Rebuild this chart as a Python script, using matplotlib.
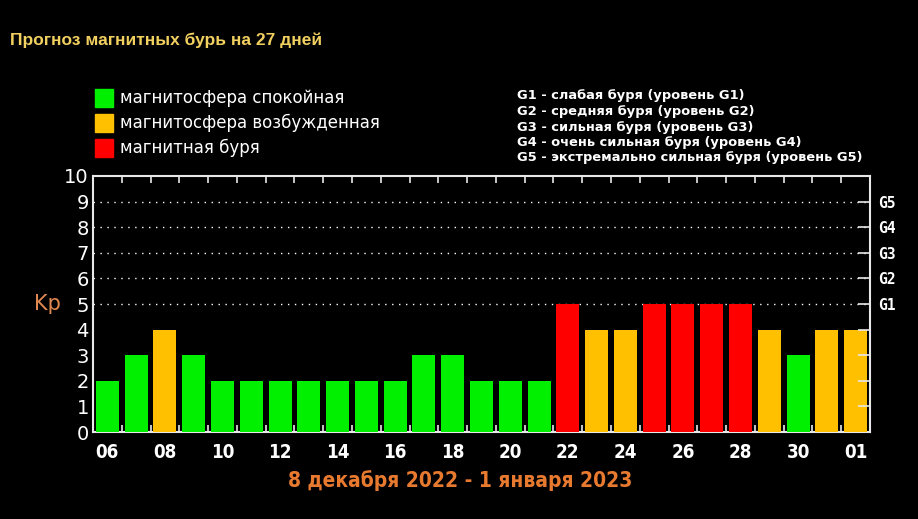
import matplotlib.pyplot as plt
from matplotlib.patches import Rectangle

# Данные: прогноз индекса Kp на 27 дней (06.12.2022 - 01.01.2023)
days = ['06', '07', '08', '09', '10', '11', '12', '13', '14', '15', '16', '17', '18', '19',
        '20', '21', '22', '23', '24', '25', '26', '27', '28', '29', '30', '31', '01']
kp = [2, 3, 4, 3, 2, 2, 2, 2, 2, 2, 2, 3, 3, 2, 2, 2, 5, 4, 4, 5, 5, 5, 5, 4, 3, 4, 4]
storm_levels = ['G1', 'G2', 'G3', 'G4', 'G5']
legend_labels = ['магнитосфера спокойная', 'магнитосфера возбужденная', 'магнитная буря']
g_texts = ['G1 - слабая буря (уровень G1)',
           'G2 - средняя буря (уровень G2)',
           'G3 - сильная буря (уровень G3)',
           'G4 - очень сильная буря (уровень G4)',
           'G5 - экстремально сильная буря (уровень G5)']

GREEN = '#00f000'
ORANGE = '#ffc000'
RED = '#ff0000'
colors_legend = [GREEN, ORANGE, RED]


def kp_color(v):
    if v >= 5:
        return RED
    if v == 4:
        return ORANGE
    return GREEN


narrow = ['Liberation Sans Narrow', 'DejaVu Sans']

fig = plt.figure(figsize=(9.18, 5.19), dpi=100, facecolor='black')
ax = fig.add_axes([0.1013, 0.1676, 0.8464, 0.4933], facecolor='black')

x = list(range(len(days)))
ax.bar(x, kp, width=0.8, color=[kp_color(v) for v in kp], zorder=3)

# пунктирные линии уровней G1-G5
for lvl in range(5, 10):
    ax.axhline(lvl, color='white', linestyle=(0, (1, 4)), linewidth=1, zorder=1)

ax.set_xlim(-0.5, len(days) - 0.5)
ax.set_ylim(0, 10)

for s in ax.spines.values():
    s.set_color('#e8e8e8')
    s.set_linewidth(1.5)

# подписи по оси X - через день
ax.set_xticks(x[::2])
ax.set_xticklabels(days[::2], color='white', fontsize=13.5, fontweight='bold', family=narrow,
                   fontstretch='condensed')
ax.set_xticks([i + 0.5 for i in x[:-1]], minor=True)
ax.tick_params(axis='x', which='major', length=0, pad=8)
ax.tick_params(axis='x', which='minor', direction='in', length=5, color='#e8e8e8',
               top=True, bottom=True, width=1.2)

ax.set_yticks(range(0, 11))
ax.set_yticklabels([str(i) for i in range(11)], color='white', fontsize=14)
ax.tick_params(axis='y', which='major', length=0, pad=3)

# правая ось с уровнями G
ax2 = ax.twinx()
ax2.set_ylim(0, 10)
ax2.set_yticks(range(1, 10))
ax2.set_yticklabels(['', '', '', ''] + storm_levels, color='white', fontsize=10.5,
                    fontweight='bold', family='DejaVu Sans Mono')
ax2.tick_params(axis='y', direction='in', length=9, color='#e8e8e8', width=1.2, pad=6)
for s in ax2.spines.values():
    s.set_visible(False)

ax.text(-0.059, 0.5, 'Kp', transform=ax.transAxes, color='#e08850', fontsize=15,
        ha='center', va='center')

# заголовок
fig.text(10 / 918, 1 - 40 / 519, 'Прогноз магнитных бурь на 27 дней', color='#f2d060',
         fontsize=12.5, fontweight='bold', family='Liberation Sans', va='center', ha='left')

# легенда цветов
for i, (c, lab) in enumerate(zip(colors_legend, legend_labels)):
    yc = 1 - (98 + i * 25) / 519
    fig.patches.append(Rectangle((95 / 918, yc - 9 / 519), 18 / 918, 18 / 519,
                                 transform=fig.transFigure, color=c, figure=fig))
    fig.text(120 / 918, yc, lab, color='white', fontsize=12, va='center', ha='left')

# легенда уровней G
for i, t in enumerate(g_texts):
    fig.text(517 / 918, 1 - (96 + i * 15.5) / 519, t, color='white', fontsize=9.4,
             fontweight='bold', va='center', ha='left')

fig.text(460 / 918, 1 - 481 / 519, '8 декабря 2022 - 1 января 2023', color='#e87a30',
         fontsize=15, fontweight='bold', family=narrow, fontstretch='condensed',
         va='center', ha='center')

fig.savefig('out.png', dpi=100, facecolor='black')
